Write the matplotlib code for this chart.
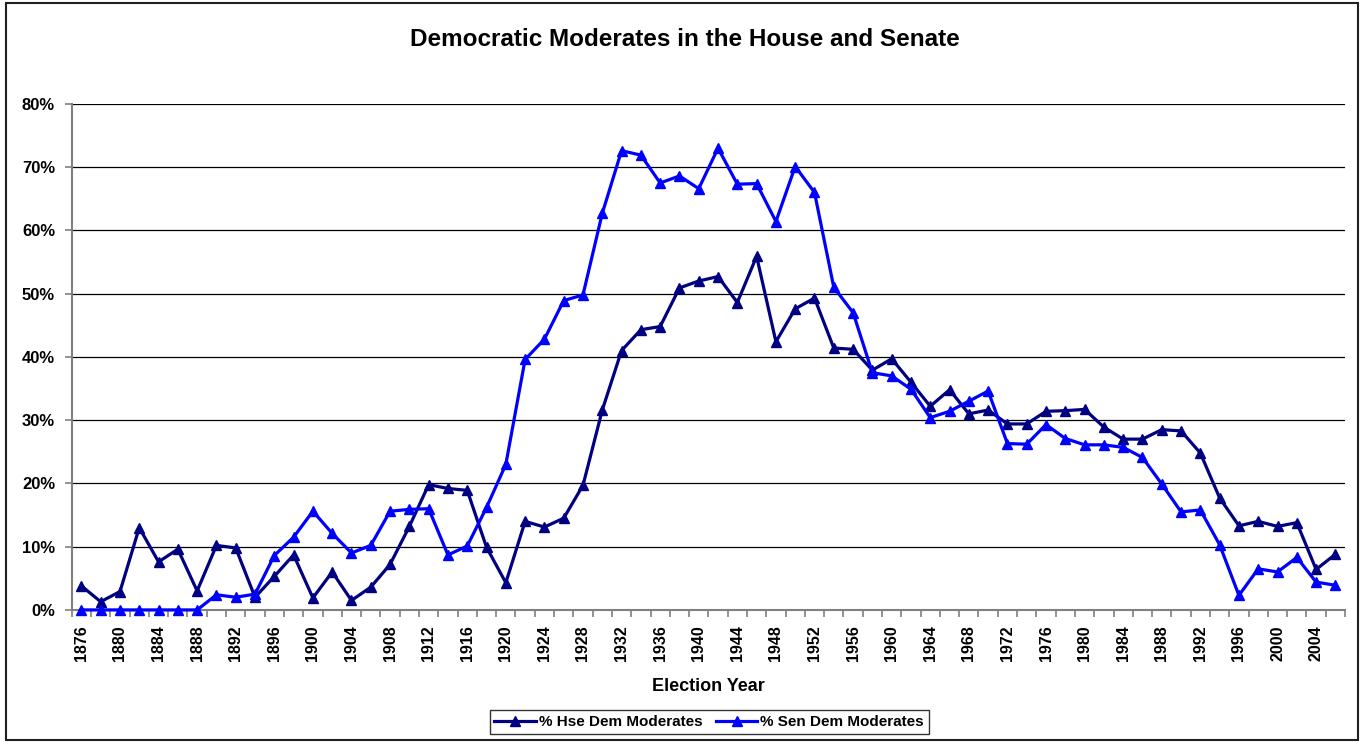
import numpy as np
import matplotlib.pyplot as plt
from matplotlib.patches import Rectangle
from matplotlib.ticker import FuncFormatter

plt.rcParams['font.family'] = ['Liberation Sans', 'DejaVu Sans']
plt.rcParams['font.weight'] = 'bold'

# election years, every 2 years
years = list(range(1876, 2007, 2))

# % of House Democrats who are moderates
house = [3.8, 1.3, 2.9, 13.0, 7.6, 9.6, 3.0, 10.2, 9.8, 2.0,
         5.3, 8.7, 1.9, 6.0, 1.5, 3.6, 7.2, 13.2, 19.8, 19.2,
         18.9, 9.9, 4.3, 14.0, 13.1, 14.5, 19.7, 31.6, 41.0, 44.3,
         44.8, 50.9, 52.0, 52.7, 48.6, 55.9, 42.4, 47.6, 49.3, 41.4,
         41.2, 37.9, 39.7, 36.0, 32.2, 34.8, 31.0, 31.6, 29.4, 29.4,
         31.4, 31.5, 31.7, 28.9, 27.0, 27.0, 28.5, 28.3, 24.8, 17.7,
         13.3, 14.0, 13.2, 13.8, 6.4, 8.8]

# % of Senate Democrats who are moderates
senate = [0.0, 0.0, 0.0, 0.0, 0.0, 0.0, 0.0, 2.4, 2.0, 2.5,
          8.6, 11.5, 15.6, 12.1, 9.0, 10.2, 15.6, 15.9, 16.0, 8.7,
          10.1, 16.2, 23.0, 39.6, 42.8, 48.9, 49.8, 62.7, 72.6, 71.9,
          67.5, 68.6, 66.6, 73.0, 67.3, 67.4, 61.4, 70.1, 66.0, 51.0,
          47.0, 37.5, 37.0, 34.9, 30.4, 31.4, 33.0, 34.6, 26.3, 26.2,
          29.3, 27.1, 26.1, 26.1, 25.7, 24.1, 19.9, 15.5, 15.8, 10.3,
          2.3, 6.5, 6.0, 8.3, 4.4, 3.9]

x = np.arange(len(years))

fig = plt.figure(figsize=(13.69, 7.42), dpi=100)
ax = fig.add_axes([0.0524, 0.178, 0.9301, 0.682])

ax.plot(x, np.array(house) / 100, color='#000080', lw=2.3, marker='^', ms=7,
        label='% Hse Dem Moderates', clip_on=False, zorder=3)
ax.plot(x, np.array(senate) / 100, color='#0000FF', lw=2.3, marker='^', ms=7,
        label='% Sen Dem Moderates', clip_on=False, zorder=4)

ax.set_xlim(-0.5, len(years) - 0.5)
ax.set_ylim(0, 0.8)
ax.set_yticks(np.arange(0, 0.81, 0.1))
ax.yaxis.set_major_formatter(FuncFormatter(lambda v, p: '{:.0f}%'.format(v * 100)))
ax.yaxis.grid(True, color='black', lw=0.9)
ax.set_axisbelow(True)

# labels every other year, tick marks between categories
ax.set_xticks(x[::2])
ax.set_xticklabels([str(y) for y in years[::2]], rotation=90,
                   family=['Liberation Sans Narrow', 'Liberation Sans'])
ax.set_xticks(np.arange(-0.5, len(years), 1), minor=True)
ax.tick_params(axis='x', which='major', length=0, pad=11, labelsize=11.5)
ax.tick_params(axis='x', which='minor', length=5, color='#808080', width=1.2)
ax.tick_params(axis='y', length=5, color='#808080', width=1.2, pad=7, labelsize=12)

for s in ['top', 'right']:
    ax.spines[s].set_visible(False)
for s in ['left', 'bottom']:
    ax.spines[s].set_color('#808080')
    ax.spines[s].set_linewidth(1.5)

ax.set_xlabel('Election Year', fontsize=13, fontweight='bold', labelpad=12)
fig.text(0.5, 0.947, 'Democratic Moderates in the House and Senate',
         ha='center', va='center', fontsize=17.5, fontweight='bold')

leg = fig.legend(loc='center', bbox_to_anchor=(0.518, 0.027), ncol=2,
                 fontsize=11, frameon=True, fancybox=False, edgecolor='black',
                 handlelength=2.7, handletextpad=0.2, columnspacing=0.9,
                 borderpad=0.3, borderaxespad=0)
leg.get_frame().set_linewidth(1)

# outer chart border
fig.patches.append(Rectangle((0.0044, 0.0027), 0.9876, 0.9933, transform=fig.transFigure,
                             fill=False, edgecolor='#202020', lw=1.5))

fig.savefig('out.png', dpi=100)
